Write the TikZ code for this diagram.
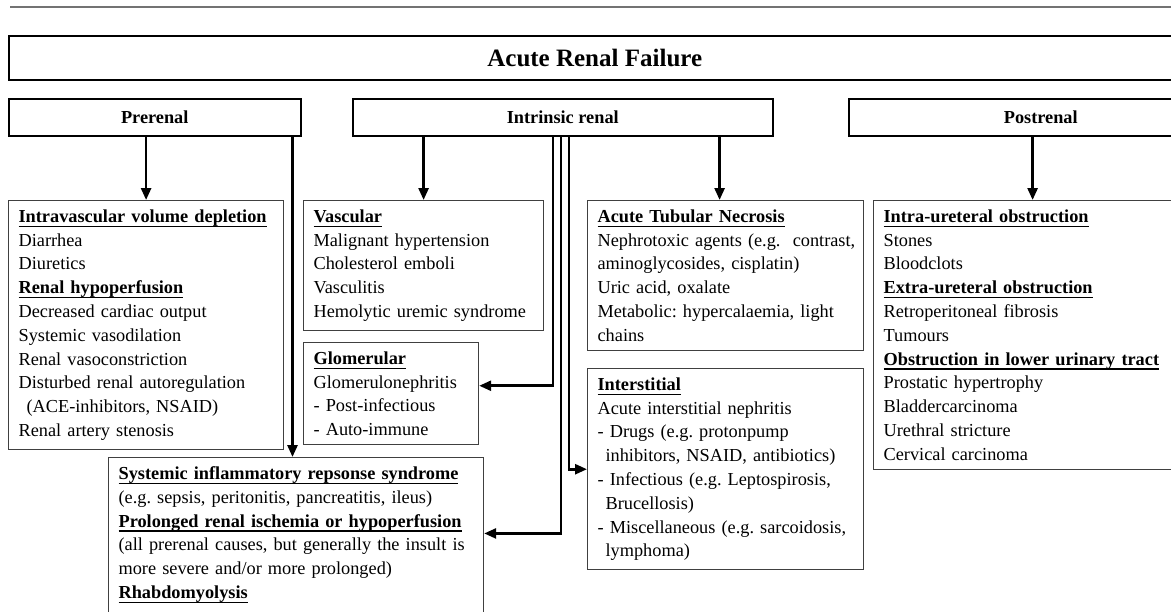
\documentclass[tikz,border=0pt]{standalone}
\usepackage{fontspec}
\setmainfont{Liberation Serif}
\usetikzlibrary{arrows.meta}
\newsavebox{\grpbox}
\newcommand{\grp}[1]{\leavevmode\sbox\grpbox{\textbf{#1}}%
  \rlap{\rule[-4.5pt]{\wd\grpbox}{1.3pt}}\usebox\grpbox}

\begin{document}
\frenchspacing
\begin{tikzpicture}[
    x=1pt, y=-1pt,
    >={Triangle[width=10pt,length=12pt]},
    every node/.style={font=\fontsize{18.3}{23.8}\selectfont},
    head/.style  ={draw, line width=1.5pt, anchor=north west, inner sep=0pt,
                   minimum height=37pt, font=\fontsize{18.3}{22}\selectfont\bfseries},
    list/.style  ={draw=black!75, line width=1.2pt, anchor=north west,
                   align=left, inner xsep=10pt, inner ysep=9pt},
    flow/.style  ={->, line width=2.6pt},
]
\useasboundingbox (0,0) rectangle (1171,611);
\clip (0,0) rectangle (1171,611);
\draw[black!55, line width=1.5pt] (10,7) -- (1171,7);

\node[head, minimum width=1172pt, minimum height=44pt,
      font=\fontsize{25}{30}\selectfont\bfseries] (arf) at (8,35) {Acute Renal Failure};
\node[head, minimum width=292pt] (pre)  at (8,98)   {Prerenal};
\node[head, minimum width=420pt] (intr) at (352,98) {Intrinsic renal};
\node[head, minimum width=384pt] (post) at (848,98) {Postrenal};

\node[list, text width=255pt] (prelist) at (8,200)
  {\grp{Intravascular volume depletion}\\
   Diarrhea\\
   Diuretics\\
   \grp{Renal hypoperfusion}\\
   Decreased cardiac output\\
   Systemic vasodilation\\
   Renal vasoconstriction\\
   Disturbed renal autoregulation\\
   \hspace*{8pt}(ACE-inhibitors, NSAID)\\
   Renal artery stenosis};
\node[list, text width=220pt] (vasc) at (303,200)
  {\grp{Vascular}\\
   Malignant hypertension\\
   Cholesterol emboli\\
   Vasculitis\\
   Hemolytic uremic syndrome};
\node[list, text width=155pt] (glom) at (303,342)
  {\grp{Glomerular}\\
   Glomerulonephritis\\
   - Post-infectious\\
   - Auto-immune};
\node[list, text width=256pt] (atn) at (587,200)
  {\grp{Acute Tubular Necrosis}\\
   \mbox{Nephrotoxic agents (e.g.~ contrast,}\\
   aminoglycosides, cisplatin)\\
   Uric acid, oxalate\\
   Metabolic: hypercalaemia, light\\
   chains};
\node[list, text width=256pt] (inter) at (587,368)
  {\grp{Interstitial}\\
   Acute interstitial nephritis\\
   - Drugs (e.g. protonpump\\
   \hspace*{8pt}inhibitors, NSAID, antibiotics)\\
   - Infectious (e.g. Leptospirosis,\\
   \hspace*{8pt}Brucellosis)\\
   - Miscellaneous (e.g. sarcoidosis,\\
   \hspace*{8pt}lymphoma)};
\node[list, text width=298pt] (postlist) at (873,200)
  {\grp{Intra-ureteral obstruction}\\
   Stones\\
   Bloodclots\\
   \grp{Extra-ureteral obstruction}\\
   Retroperitoneal fibrosis\\
   Tumours\\
   \grp{Obstruction in lower urinary tract}\\
   Prostatic hypertrophy\\
   Bladdercarcinoma\\
   Urethral stricture\\
   Cervical carcinoma};
\node[list, text width=355pt] (sirs) at (108,457)
  {\grp{Systemic inflammatory repsonse syndrome}\\
   (e.g. sepsis, peritonitis, pancreatitis, ileus)\\
   \grp{Prolonged renal ischemia or hypoperfusion}\\
   (all prerenal causes, but generally the insult is\\
   more severe and/or more prolonged)\\
   \grp{Rhabdomyolysis}\\
   \mbox{}};

\draw[flow] (prelist.north |- pre.south) -- (prelist.north);
\draw[flow] (vasc.north |- intr.south) -- (vasc.north);
\draw[flow] ([xshift=-6pt]atn.north |- intr.south) -- ([xshift=-6pt]atn.north);
\draw[flow] (postlist.north |- post.south) -- (postlist.north);
% prerenal feeds straight down into the ischemic block
\coordinate (p1) at ([xshift=-9pt]pre.south east);
\draw[flow] (p1) -- (p1 |- sirs.north);
\coordinate (a1) at ([xshift=201pt]intr.south west);
\coordinate (a2) at ([xshift=209pt]intr.south west);
\coordinate (a3) at ([xshift=217pt]intr.south west);
\draw[flow] (a1) |- ([yshift=8pt]glom.east);
\draw[flow] (a2) |- ([yshift=11pt]sirs.east);
\draw[flow] (a3) |- (inter.west);
\end{tikzpicture}
\end{document}
